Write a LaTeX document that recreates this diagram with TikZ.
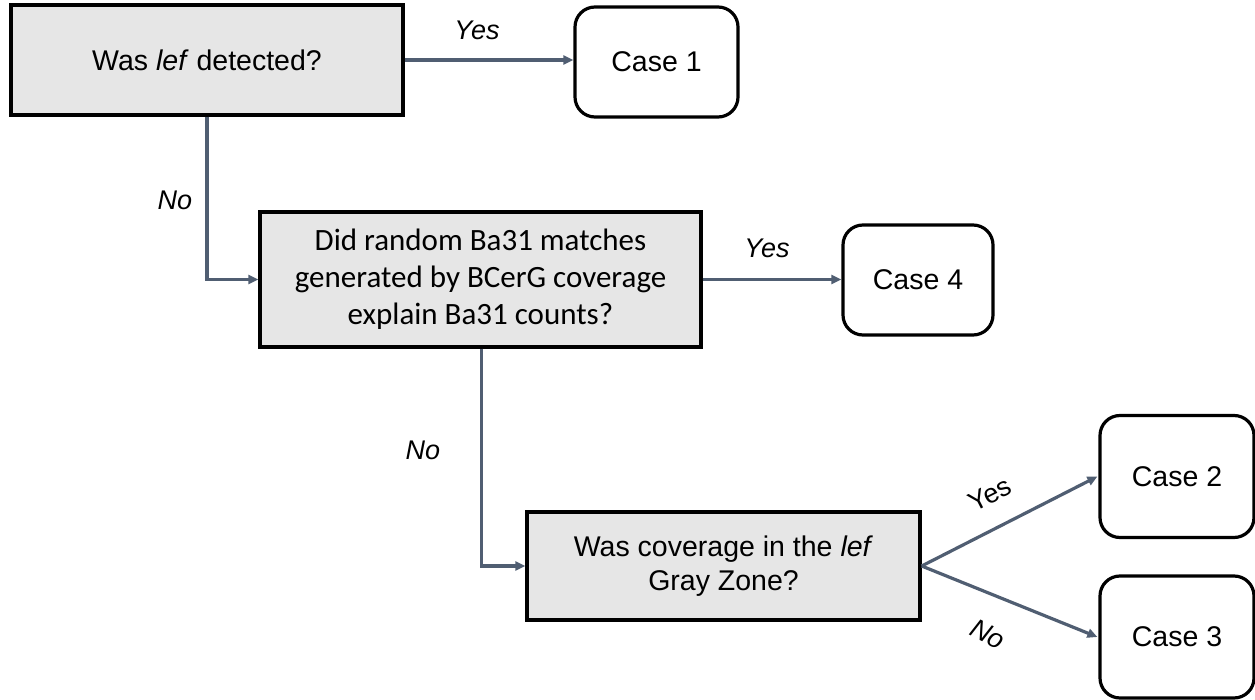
\documentclass[tikz,border=0pt]{standalone}
\usepackage{fontspec}
\setmainfont{Liberation Sans}
\newfontfamily\calfont{Carlito}
\usetikzlibrary{arrows.meta}
\definecolor{boxgray}{RGB}{230,230,230}
\definecolor{arrowc}{RGB}{80,94,114}
\begin{document}
\begin{tikzpicture}[x=1pt,y=-1pt,
  qbox/.style={draw=black, line width=3.4pt, fill=boxgray, inner sep=0pt, align=center, font=\fontsize{28.5}{34}\selectfont},
  casebox/.style={draw=black, line width=3.2pt, fill=white, rounded corners=20pt, inner sep=0pt, align=center, font=\fontsize{28.5}{34}\selectfont},
  conn/.style={draw=arrowc, line width=3.2pt, -{Triangle[length=10pt,width=9pt]}},
  lbl/.style={font=\fontsize{27}{32}\selectfont\itshape, inner sep=0pt}]
\useasboundingbox (0,0) rectangle (1255,700);
\node[qbox, minimum width=392pt, minimum height=110pt] (q1) at (207,60) {Was \textit{lef} detected?};
\node[casebox, minimum width=163pt, minimum height=110pt] (c1) at (656.5,62) {Case 1};
\node[qbox, minimum width=441pt, minimum height=135pt, font=\calfont\fontsize{31}{37}\selectfont] (q2) at (480.5,279.5) {Did random Ba31 matches\\generated by BCerG coverage\\explain Ba31 counts?};
\node[casebox, minimum width=150pt, minimum height=110pt] (c4) at (918,280) {Case 4};
\node[qbox, minimum width=393pt, minimum height=108pt] (q3) at (723.5,566) {Was coverage in the \textit{lef}\\Gray Zone?};
\node[casebox, minimum width=154pt, minimum height=122pt] (c2) at (1177,476.5) {Case 2};
\node[casebox, minimum width=154pt, minimum height=122pt] (c3) at (1177,637) {Case 3};

\draw[conn] (q1.east) -- (c1.west |- q1.east);
\node[lbl] (y1) at (477,30) {Yes};
\draw[conn] (q1.south) |- (q2.west);
\node[lbl] (n1) at (175,200) {No};
\draw[conn] (q2.east) -- (c4.west |- q2.east);
\node[lbl] (y2) at (767,248) {Yes};
\draw[conn] ([xshift=1pt]q2.south) |- (q3.west);
\node[lbl] (n2) at (423,450) {No};
\draw[conn] (q3.east) -- ([xshift=-1pt]c2.west);
\draw[conn] (q3.east) -- ([xshift=-1pt]c3.west);
\node[lbl, font=\fontsize{27}{32}\selectfont, rotate=27] (y3) at (990,494) {Yes};
\node[lbl, rotate=-27] (n3) at (988,634) {No};
\end{tikzpicture}
\end{document}
